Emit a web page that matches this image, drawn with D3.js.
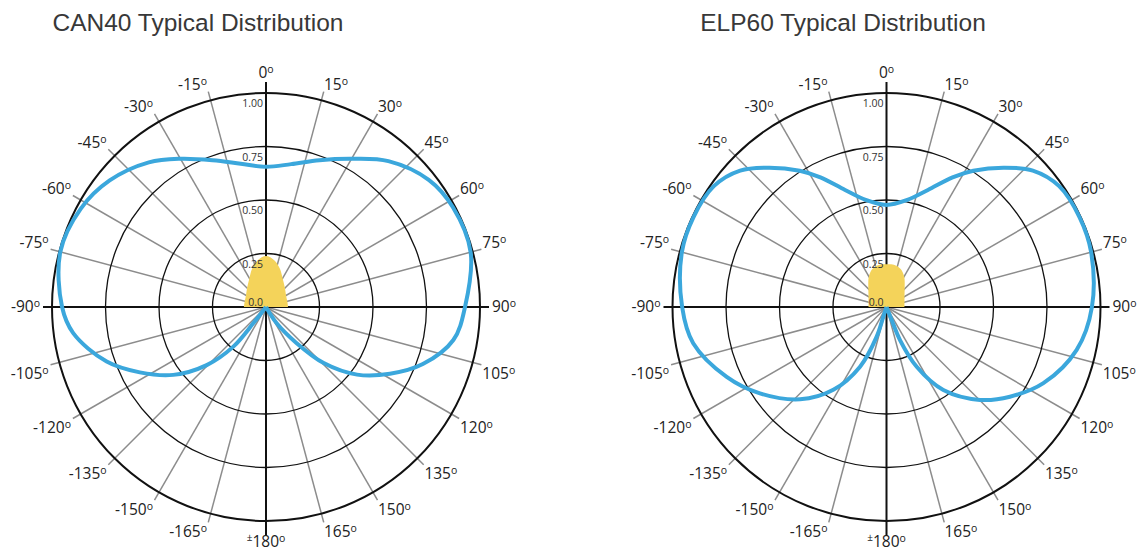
<!DOCTYPE html>
<html>
<head>
<meta charset="utf-8">
<script src="https://cdn.jsdelivr.net/npm/d3@7"></script>
<style>
  html, body { margin: 0; padding: 0; background: #fff; }
  svg { display: block; }
</style>
</head>
<body>
<svg id="chart" width="1139" height="552"></svg>
<script>
// ---------------- DATA ----------------
const chartTitles = ["CAN40 Typical Distribution", "ELP60 Typical Distribution"];
const angleTicks = [-165, -150, -135, -120, -105, -90, -75, -60, -45, -30, -15, 0, 15, 30, 45, 60, 75, 90, 105, 120, 135, 150, 165, 180];
const angleLabels = ["-165", "-150", "-135", "-120", "-105", "-90", "-75", "-60", "-45", "-30", "-15", "0", "15", "30", "45", "60", "75", "90", "105", "120", "135", "150", "165", "±180"];
const ringValues = [0.25, 0.5, 0.75, 1.0];
const ringLabels = ["0.0", "0.25", "0.50", "0.75", "1.00"];
const ringLabelValues = [0, 0.25, 0.5, 0.75, 1.0];

// blue curve (angle in degrees, relative intensity)
const can40Angles = [-146, -142, -140.5, -134.4, -126.2, -117.4, -108.9, -97.7, -90, -75, -62, -51, -39, -30, -20, -10, 0, 10, 20, 30, 40, 52, 62, 75, 90, 100, 110, 118.3, 126.6, 134.2, 139.8, 146.7, 149];
const can40Values = [0, 0.097, 0.24, 0.388, 0.537, 0.664, 0.787, 0.909, 0.953, 0.995, 0.98, 0.94, 0.87, 0.80, 0.73, 0.68, 0.655, 0.678, 0.73, 0.80, 0.89, 0.965, 0.99, 0.99, 0.93, 0.889, 0.78, 0.658, 0.53, 0.376, 0.22, 0.091, 0];

const elp60Angles = [-163, -161.7, -161.7, -156.1, -147.3, -136.9, -124.3, -113.6, -100.6, -90, -75, -65, -55, -47, -40, -32.5, -27, -19.5, -11, 0, 11, 19.5, 27, 32.5, 40, 47, 55, 65, 75, 90, 102.7, 115.9, 126, 134.8, 145.6, 153.2, 157.8, 158.2, 160];
const elp60Values = [0, 0.048, 0.146, 0.305, 0.46, 0.591, 0.716, 0.815, 0.919, 0.955, 0.99, 0.995, 0.985, 0.935, 0.85, 0.755, 0.68, 0.58, 0.51, 0.477, 0.51, 0.58, 0.68, 0.755, 0.85, 0.935, 0.985, 0.995, 0.99, 0.96, 0.911, 0.815, 0.713, 0.616, 0.47, 0.313, 0.167, 0.065, 0];

// yellow filled beam
const beamAngles = [-90, -75, -60, -45, -30, -20, -10, 0, 10, 20, 30, 45, 60, 75, 90];
const can40Beam = [0.103, 0.103, 0.108, 0.125, 0.155, 0.19, 0.222, 0.238, 0.222, 0.19, 0.155, 0.125, 0.108, 0.103, 0.103];
const elp60Beam = [0.084, 0.087, 0.097, 0.12, 0.165, 0.19, 0.20, 0.20, 0.20, 0.19, 0.165, 0.12, 0.097, 0.087, 0.084];

// ---------------- LAYOUT / STYLE ----------------
const panels = [
  { title: chartTitles[0], cx: 266, cy: 307, titleX: 198, angles: can40Angles, values: can40Values, beam: can40Beam },
  { title: chartTitles[1], cx: 886.5, cy: 307, titleX: 843, angles: elp60Angles, values: elp60Values, beam: elp60Beam }
];
const R = 214;
const spokeR = 223;
const blue = "#3ba7dc";
const yellow = "#f4d35a";

const svg = d3.select("#chart");
const r = d3.scaleLinear().domain([0, 1]).range([0, R]);
const toRad = d => d * Math.PI / 180;

panels.forEach(p => {
  svg.append("text")
    .attr("x", p.titleX).attr("y", 31)
    .attr("text-anchor", "middle")
    .attr("font-family", "'Liberation Sans', Arial, sans-serif")
    .attr("font-size", 24.5)
    .attr("fill", "#383838")
    .text(p.title);

  const g = svg.append("g").attr("transform", `translate(${p.cx},${p.cy})`);

  // gray spokes
  g.selectAll("line.spoke")
    .data(angleTicks.filter(a => a % 90 !== 0))
    .join("line")
    .attr("class", "spoke")
    .attr("x1", 0).attr("y1", 0)
    .attr("x2", a => spokeR * Math.sin(toRad(a)))
    .attr("y2", a => -spokeR * Math.cos(toRad(a)))
    .attr("stroke", "#8c8c8c")
    .attr("stroke-width", 1.5);

  // rings
  g.selectAll("circle.ring")
    .data(ringValues)
    .join("circle")
    .attr("class", "ring")
    .attr("r", d => r(d))
    .attr("fill", "none")
    .attr("stroke", "#111")
    .attr("stroke-width", d => d === 1 ? 2 : 1.3);

  // black axes
  g.append("line").attr("x1", -spokeR).attr("x2", spokeR).attr("y1", 0).attr("y2", 0)
    .attr("stroke", "#111").attr("stroke-width", 2);
  g.append("line").attr("x1", 0).attr("x2", 0).attr("y1", -225).attr("y2", 229)
    .attr("stroke", "#111").attr("stroke-width", 2);

  // yellow beam
  const beamLine = d3.lineRadial()
    .angle((d, i) => toRad(beamAngles[i]))
    .radius(d => r(d))
    .curve(d3.curveCatmullRom.alpha(0.5));
  g.append("path")
    .attr("d", beamLine(p.beam) + "L0,0Z")
    .attr("fill", yellow)
    .attr("stroke", "none");

  // ring value labels
  g.selectAll("text.rl")
    .data(ringLabelValues)
    .join("text")
    .attr("class", "rl")
    .attr("x", -3)
    .attr("y", d => d === 0 ? -1 : -r(d) + 14)
    .attr("text-anchor", "end")
    .attr("font-family", "'Open Sans', 'Noto Sans', sans-serif")
    .attr("font-size", 10.5)
    .attr("fill", "#333")
    .text((d, i) => ringLabels[i]);

  // blue distribution curve
  const line = d3.lineRadial()
    .angle((d, i) => toRad(p.angles[i]))
    .radius(d => r(d))
    .curve(d3.curveCatmullRom.alpha(0.5));
  g.append("path")
    .attr("d", line(p.values))
    .attr("fill", "none")
    .attr("stroke", blue)
    .attr("stroke-width", 4)
    .attr("stroke-linejoin", "round");

  // angle labels
  const labR = 224;
  angleTicks.forEach((a, i) => {
    const s = Math.sin(toRad(a)), c = Math.cos(toRad(a));
    let x = labR * s, y = -labR * c, anchor;
    if (a === 0) { anchor = "middle"; x = 0; y = -229; }
    else if (a === 180) { anchor = "middle"; x = 0; y = 240; }
    else if (a === 90) { anchor = "start"; x = 226; y = 5; }
    else if (a === -90) { anchor = "end"; x = -226; y = 5; }
    else {
      anchor = a > 0 ? "start" : "end";
      x += a > 0 ? 0 : -1;
      y += Math.abs(a) < 90 ? -1 : 14;
    }
    const t = g.append("text")
      .attr("x", x).attr("y", y)
      .attr("text-anchor", anchor)
      .attr("font-family", "'Open Sans', 'Noto Sans', sans-serif")
      .attr("font-size", 15.5)
      .attr("fill", "#222");
    let txt = angleLabels[i];
    if (txt.startsWith("±")) {
      t.append("tspan").attr("font-size", 10).attr("dy", -6).text("±");
      t.append("tspan").attr("dy", 6).text(txt.slice(1));
    } else {
      t.append("tspan").text(txt);
    }
    t.append("tspan").attr("font-size", 10.5).attr("dy", -5).text("o");
  });
});
</script>
</body>
</html>
